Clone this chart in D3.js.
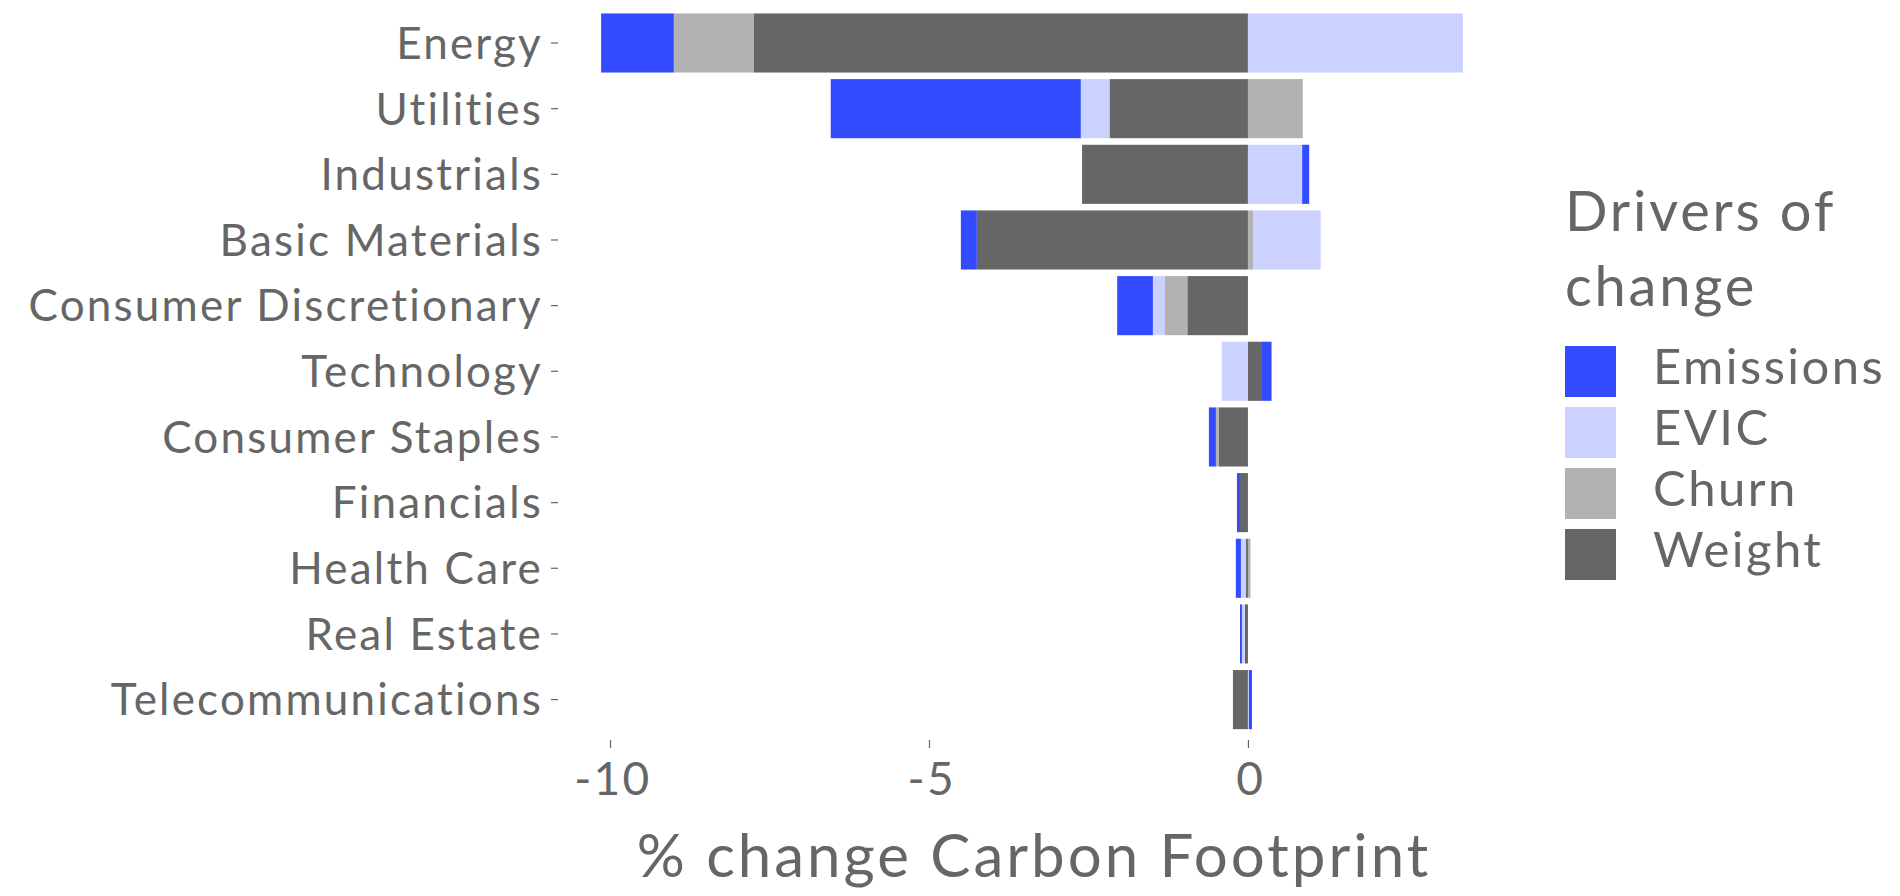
<!DOCTYPE html>
<html>
<head>
<meta charset="utf-8">
<script src="https://cdn.jsdelivr.net/npm/d3@7"></script>
<style>
  html, body { margin: 0; padding: 0; background: #ffffff; }
  svg { display: block; }
  text { font-family: Lato, "Open Sans", sans-serif; fill: #666666; letter-spacing: 0.05em; }
</style>
</head>
<body>
<svg id="chart" width="1900" height="896"></svg>
<script>
// ---- data ----
const categories = ["Energy", "Utilities", "Industrials", "Basic Materials", "Consumer Discretionary",
  "Technology", "Consumer Staples", "Financials", "Health Care", "Real Estate", "Telecommunications"];
const drivers = ["Emissions", "EVIC", "Churn", "Weight"];
const emissions = [-1.14, -3.92, 0.11, -0.25, -0.56, 0.15, -0.11, -0.047, -0.08, -0.03, 0.047];
const evic      = [3.37, -0.45, 0.85, 1.06, -0.19, -0.41, 0, 0, -0.08, -0.047, 0.016];
const churn     = [-1.25, 0.86, 0, 0.08, -0.35, 0, -0.047, 0, 0.04, 0, 0];
const weight    = [-7.75, -2.17, -2.6, -4.25, -0.95, 0.22, -0.455, -0.125, -0.03, -0.047, -0.235];
const xTicks = [-10, -5, 0];
const colors = ["#334bff", "#ccd2ff", "#b2b2b2", "#666666"];
const xTitle = "% change Carbon Footprint";
const legendTitle = ["Drivers of", "change"];

// ---- build table ----
const series = { "Emissions": emissions, "EVIC": evic, "Churn": churn, "Weight": weight };
const rows = categories.map((c, i) => {
  const r = { category: c };
  drivers.forEach(d => r[d] = series[d][i]);
  return r;
});
// stacking order from zero outward: Weight, Churn, EVIC, Emissions
const stackKeys = ["Weight", "Churn", "EVIC", "Emissions"];
const stacked = d3.stack().keys(stackKeys).offset(d3.stackOffsetDiverging)(rows);

const color = d3.scaleOrdinal().domain(drivers).range(colors);

const svg = d3.select("#chart");
const panel = { left: 558, right: 1506, top: 3.6, bottom: 739 };

let lo = d3.min(stacked, s => d3.min(s, d => d[0]));
let hi = d3.max(stacked, s => d3.max(s, d => d[1]));
const pad = (hi - lo) * 0.05;
const x = d3.scaleLinear().domain([lo - pad, hi + pad]).range([panel.left, panel.right]);
const y = d3.scaleBand().domain(categories).range([panel.top, panel.bottom])
  .paddingInner(0.1).paddingOuter(0.15);

// bars
svg.append("g").selectAll("g").data(stacked).join("g")
  .attr("fill", s => color(s.key))
  .selectAll("rect").data(s => s).join("rect")
  .attr("x", d => x(Math.min(d[0], d[1])))
  .attr("width", d => Math.abs(x(d[1]) - x(d[0])))
  .attr("y", d => y(d.data.category))
  .attr("height", y.bandwidth());

const FONT = "Lato, 'Open Sans', sans-serif";

// y axis
const yAxis = svg.append("g").attr("transform", `translate(${panel.left},0)`)
  .call(d3.axisLeft(y).tickSize(7).tickPadding(8));
yAxis.select(".domain").remove();
yAxis.selectAll(".tick line").attr("stroke", "#666666").attr("stroke-width", 1.2);
yAxis.selectAll(".tick text").attr("font-size", 44).attr("fill", "#666666")
  .attr("font-family", FONT).attr("dy", "0.36em");

// x axis
const xAxis = svg.append("g").attr("transform", `translate(0,${panel.bottom + 1})`)
  .call(d3.axisBottom(x).tickValues(xTicks).tickSize(8).tickPadding(14).tickFormat(d3.format("d")));
xAxis.select(".domain").remove();
xAxis.selectAll(".tick line").attr("stroke", "#666666").attr("stroke-width", 1.2);
xAxis.selectAll(".tick text").attr("font-size", 46).attr("fill", "#666666")
  .attr("font-family", FONT).attr("dx", "0.05em");
xAxis.selectAll(".tick text").text(d => d < 0 ? "-" + Math.abs(d) : d);

// x title
svg.append("text").attr("x", (panel.left + panel.right) / 2 + 2).attr("y", 877)
  .attr("text-anchor", "middle").attr("font-size", 60).text(xTitle);

// legend
const lg = svg.append("g");
legendTitle.forEach((t, i) => {
  lg.append("text").attr("x", 1565).attr("y", 231 + i * 75).attr("font-size", 56).text(t);
});
drivers.forEach((d, i) => {
  lg.append("rect").attr("x", 1565).attr("y", 346 + i * 61).attr("width", 51).attr("height", 51)
    .attr("fill", color(d));
  lg.append("text").attr("x", 1653).attr("y", 384 + i * 61).attr("font-size", 49).text(d);
});
</script>
</body>
</html>
